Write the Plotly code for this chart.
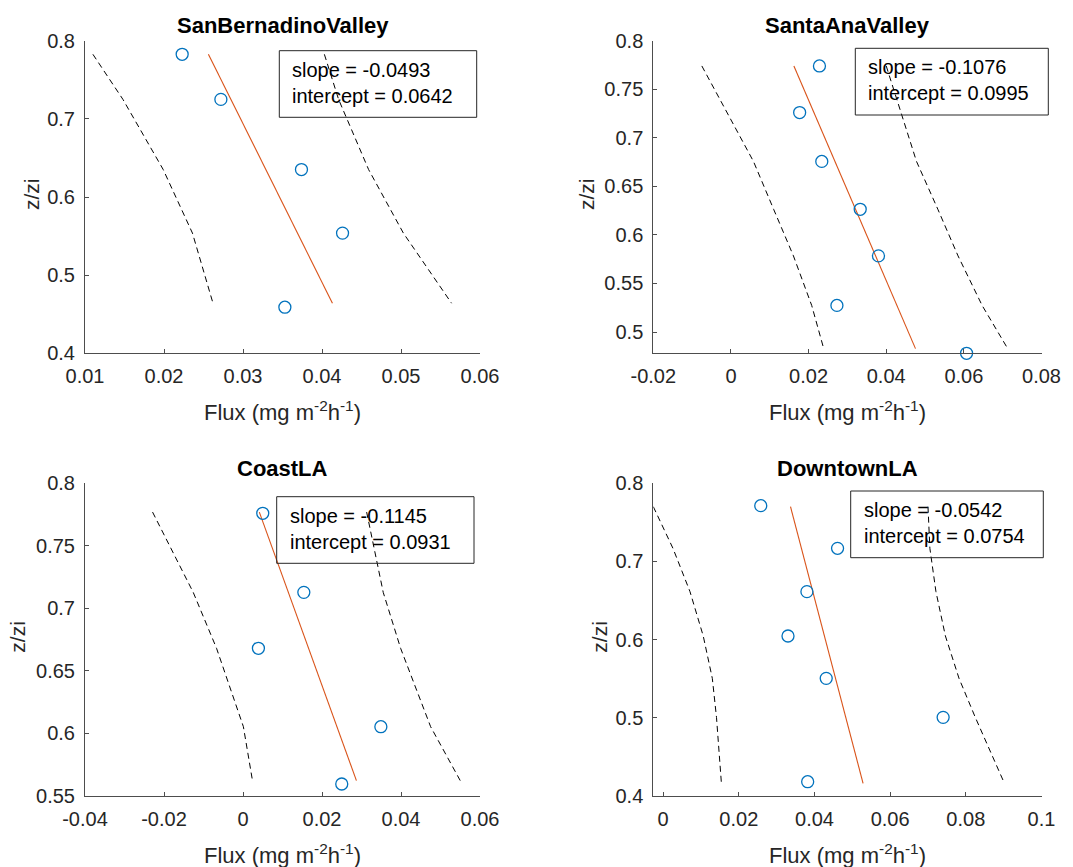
import plotly.graph_objects as go

W, H = 1073, 867

titles = ["SanBernadinoValley", "SantaAnaValley", "CoastLA", "DowntownLA"]

# Observed flux profiles (flux, z/zi)
sbv_flux = [0.0223, 0.0272, 0.0374, 0.0426, 0.0353]
sbv_z = [0.7826, 0.7249, 0.6351, 0.5538, 0.4590]
sav_flux = [0.0228, 0.0177, 0.0234, 0.0333, 0.0380, 0.0273, 0.0607]
sav_z = [0.7740, 0.7260, 0.6757, 0.6264, 0.5784, 0.5274, 0.4781]
cla_flux = [0.0050, 0.0154, 0.0039, 0.0349, 0.0250]
cla_z = [0.7760, 0.7128, 0.6681, 0.6054, 0.5596]
dla_flux = [0.0258, 0.0461, 0.0380, 0.0330, 0.0431, 0.0740, 0.0382]
dla_z = [0.7714, 0.7168, 0.6614, 0.6047, 0.5505, 0.5006, 0.4183]

# Linear fit: flux = slope * z/zi + intercept
slopes = [-0.0493, -0.1076, -0.1145, -0.0542]
intercepts = [0.0642, 0.0995, 0.0931, 0.0754]

# Prediction bands (z/zi nodes, lower and upper flux)
sbv_band_z = [0.7826, 0.7249, 0.6351, 0.5538, 0.4641]
sbv_band_lo = [0.0110, 0.0148, 0.0199, 0.0236, 0.0262]
sbv_band_hi = [0.0403, 0.0421, 0.0459, 0.0503, 0.0564]
sav_band_z = [0.7740, 0.7260, 0.6757, 0.6264, 0.5784, 0.5274, 0.4829]
sav_band_lo = [-0.0075, -0.0011, 0.0058, 0.0110, 0.0161, 0.0208, 0.0239]
sav_band_hi = [0.0400, 0.0439, 0.0478, 0.0533, 0.0585, 0.0647, 0.0713]
cla_band_z = [0.7770, 0.7128, 0.6681, 0.6054, 0.5623]
cla_band_lo = [-0.0229, -0.0126, -0.0067, 0.0001, 0.0024]
cla_band_hi = [0.0313, 0.0355, 0.0399, 0.0475, 0.0550]
dla_band_z = [0.7701, 0.7168, 0.6614, 0.6047, 0.5505, 0.5006, 0.4162]
dla_band_lo = [-0.0026, 0.0026, 0.0071, 0.0106, 0.0130, 0.0141, 0.0154]
dla_band_hi = [0.0700, 0.0705, 0.0721, 0.0746, 0.0782, 0.0825, 0.0902]

# Axis limits and ticks
x_ranges = [[0.01, 0.06], [-0.02, 0.08], [-0.04, 0.06], [-0.0026, 0.1]]
y_ranges = [[0.4, 0.8], [0.4781, 0.8], [0.55, 0.8], [0.4, 0.8]]
x_tickvals = [
    [0.01, 0.02, 0.03, 0.04, 0.05, 0.06],
    [-0.02, 0, 0.02, 0.04, 0.06, 0.08],
    [-0.04, -0.02, 0, 0.02, 0.04, 0.06],
    [0, 0.02, 0.04, 0.06, 0.08, 0.1],
]
x_ticktext = [
    ["0.01", "0.02", "0.03", "0.04", "0.05", "0.06"],
    ["-0.02", "0", "0.02", "0.04", "0.06", "0.08"],
    ["-0.04", "-0.02", "0", "0.02", "0.04", "0.06"],
    ["0", "0.02", "0.04", "0.06", "0.08", "0.1"],
]
y_tickvals = [
    [0.4, 0.5, 0.6, 0.7, 0.8],
    [0.5, 0.55, 0.6, 0.65, 0.7, 0.75, 0.8],
    [0.55, 0.6, 0.65, 0.7, 0.75, 0.8],
    [0.4, 0.5, 0.6, 0.7, 0.8],
]
y_ticktext = [
    ["0.4", "0.5", "0.6", "0.7", "0.8"],
    ["0.5", "0.55", "0.6", "0.65", "0.7", "0.75", "0.8"],
    ["0.55", "0.6", "0.65", "0.7", "0.75", "0.8"],
    ["0.4", "0.5", "0.6", "0.7", "0.8"],
]

flux = [sbv_flux, sav_flux, cla_flux, dla_flux]
zz = [sbv_z, sav_z, cla_z, dla_z]
band_z = [sbv_band_z, sav_band_z, cla_band_z, dla_band_z]
band_lo = [sbv_band_lo, sav_band_lo, cla_band_lo, dla_band_lo]
band_hi = [sbv_band_hi, sav_band_hi, cla_band_hi, dla_band_hi]

# Plot-area rectangles in pixels: (left, top, right, bottom)
areas = [
    (85.0, 40.7, 480.0, 353.3),
    (653.3, 40.7, 1041.5, 353.3),
    (85.0, 483.3, 480.0, 796.0),
    (653.3, 483.3, 1041.5, 796.0),
]
# Fit-statistics boxes in pixels: (left, top, right, bottom)
boxes = [
    (279.3, 50.7, 476.7, 117.3),
    (855.3, 48.3, 1048.3, 115.0),
    (276.7, 496.7, 474.0, 563.3),
    (850.7, 491.0, 1043.3, 557.7),
]

FONT = "Liberation Sans, Arial, Helvetica, sans-serif"
AX_COL = "#262626"
LINE_COL = "#4d4d4d"
BLUE = "#0072BD"
ORANGE = "#D95319"


def px(x):
    return x / W


def py(y):
    return 1 - y / H


fig = go.Figure()
annotations = []
shapes = []

for i in range(4):
    sfx = "" if i == 0 else str(i + 1)
    xa, ya = "x" + sfx, "y" + sfx

    # prediction bands
    for side in (band_lo[i], band_hi[i]):
        fig.add_trace(go.Scatter(
            x=side, y=band_z[i], xaxis=xa, yaxis=ya, mode="lines",
            line=dict(color="black", width=1, dash="6px,4px"),
            showlegend=False, hoverinfo="skip"))

    # fitted line from the stated slope and intercept
    z_ends = [band_z[i][0], band_z[i][-1]]
    fit_x = [slopes[i] * z + intercepts[i] for z in z_ends]
    fig.add_trace(go.Scatter(
        x=fit_x, y=z_ends, xaxis=xa, yaxis=ya, mode="lines",
        line=dict(color=ORANGE, width=1.1), showlegend=False))

    # observations
    fig.add_trace(go.Scatter(
        x=flux[i], y=zz[i], xaxis=xa, yaxis=ya, mode="markers",
        marker=dict(symbol="circle-open", size=12, color=BLUE,
                    line=dict(width=1.3, color=BLUE)),
        cliponaxis=False, showlegend=False))

    l, t, r, b = areas[i]
    axis_common = dict(
        showline=True, linecolor=LINE_COL, linewidth=1, mirror=False,
        showgrid=False, zeroline=False, ticks="inside", ticklen=4,
        tickwidth=1, tickcolor=LINE_COL, automargin=False,
        tickfont=dict(family=FONT, size=20, color=AX_COL),
        tickmode="array",
    )
    fig.update_layout(**{
        "xaxis" + sfx: dict(
            axis_common, domain=[px(l), px(r)], range=x_ranges[i],
            tickvals=x_tickvals[i], ticktext=x_ticktext[i], anchor=ya,
            ticklabelstandoff=5),
        "yaxis" + sfx: dict(
            axis_common, domain=[py(b), py(t)], range=y_ranges[i],
            tickvals=y_tickvals[i], ticktext=y_ticktext[i], anchor=xa,
            ticklabelstandoff=5),
    })

    cx = (l + r) / 2
    # title
    annotations.append(dict(
        text="<b>" + titles[i] + "</b>", x=px(cx), y=py(t - 15),
        xref="paper", yref="paper", showarrow=False, xanchor="center",
        yanchor="middle", font=dict(family=FONT, size=22, color="black")))
    # x-axis label
    annotations.append(dict(
        text="Flux (mg m<sup>-2</sup>h<sup>-1</sup>)", x=px(cx), y=py(b + 58),
        xref="paper", yref="paper", showarrow=False, xanchor="center",
        yanchor="middle", font=dict(family=FONT, size=22, color=AX_COL)))
    # y-axis label
    ylab_x = [32, 587, 18, 600][i]
    annotations.append(dict(
        text="z/zi", x=px(ylab_x), y=py((t + b) / 2 - 3), textangle=-90,
        xref="paper", yref="paper", showarrow=False, xanchor="center",
        yanchor="middle", font=dict(family=FONT, size=21, color=AX_COL)))

    # statistics box
    bl, bt, br, bb = boxes[i]
    shapes.append(dict(
        type="rect", xref="paper", yref="paper",
        x0=px(bl), x1=px(br), y0=py(bb), y1=py(bt),
        line=dict(color=AX_COL, width=1), fillcolor="rgba(0,0,0,0)"))
    lines = ["slope = %.4f" % slopes[i], "intercept = %.4f" % intercepts[i]]
    for k, txt in enumerate(lines):
        annotations.append(dict(
            text=txt, x=px(bl + 11), y=py(bt + 19 + 26 * k),
            xref="paper", yref="paper", showarrow=False, xanchor="left",
            yanchor="middle", font=dict(family=FONT, size=20, color="black")))

fig.update_layout(
    width=W, height=H, margin=dict(l=0, r=0, t=0, b=0),
    paper_bgcolor="white", plot_bgcolor="white",
    annotations=annotations, shapes=shapes, showlegend=False,
)

fig.write_html("out.html")
